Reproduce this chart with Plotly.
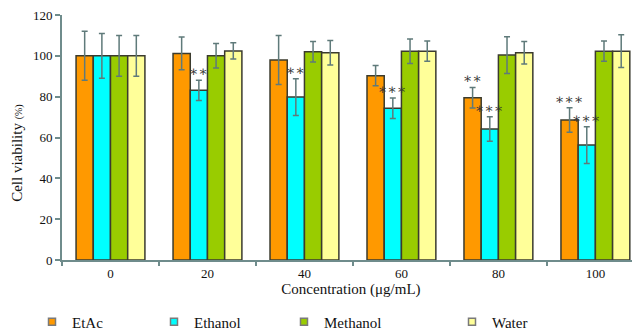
import plotly.graph_objects as go

concentrations = ["0", "20", "40", "60", "80", "100"]
series_names = ["EtAc", "Ethanol", "Methanol", "Water"]

etac = [100, 101.2, 98, 90.3, 79.5, 68.6]
etac_err = [12, 8, 12, 5, 5, 6]
ethanol = [100, 83.1, 79.8, 74.3, 64.2, 56.3]
ethanol_err = [11, 5, 9, 5, 6, 9]
methanol = [100, 100, 102, 102.3, 100.4, 102.3]
methanol_err = [10, 6, 5, 6, 9, 5]
water = [100, 102.4, 101.5, 102.3, 101.5, 102.3]
water_err = [10, 4, 6, 5, 5.5, 8]

# significance marks: (series index, category index, label)
sig_series = [1, 1, 1, 0, 1, 0, 1]
sig_cat = [1, 2, 3, 4, 4, 5, 5]
sig_text = ["∗∗", "∗∗", "∗∗∗", "∗∗", "∗∗∗", "∗∗∗", "∗∗∗"]

colors = ["#FF9900", "#00FFFF", "#99CC00", "#FFFF99"]
values = [etac, ethanol, methanol, water]
errors = [etac_err, ethanol_err, methanol_err, water_err]

FONT = "Liberation Serif"
AXIS_COLOR = "#6f8c8c"
BARGAP = 0.29

fig = go.Figure()
for name, vals, errs, col in zip(series_names, values, errors, colors):
    fig.add_trace(go.Bar(
        x=concentrations, y=vals, name=name, showlegend=False,
        marker=dict(color=col, line=dict(color="#3b3b2e", width=1.5)),
        error_y=dict(type="data", array=errs, visible=True,
                     color="#5f7a7a", thickness=1.5, width=3),
    ))

legend_ids = ["legend", "legend2", "legend3", "legend4"]
for name, col, lid in zip(series_names, colors, legend_ids):
    fig.add_trace(go.Scatter(
        x=[None], y=[None], mode="markers", name=name, legend=lid,
        marker=dict(symbol="square", size=7, color=col,
                    line=dict(color="#7a7a7a", width=1.5)),
    ))

w = (1 - BARGAP) / 4
for s, c, t in zip(sig_series, sig_cat, sig_text):
    top = values[s][c] + errors[s][c]
    fig.add_annotation(
        x=c + (-1.5 + s) * w, y=top, xref="x", yref="y",
        text=t, showarrow=False, xanchor="center", yanchor="bottom", yshift=-1,
        font=dict(family="DejaVu Serif", size=14, color="#333333"),
    )

# y-axis title
fig.add_annotation(
    x=-0.078, y=0.437, xref="paper", yref="paper",
    xanchor="center", yanchor="middle",
    text="Cell viability <span style='font-size:10px'>(%)</span>",
    textangle=-90, showarrow=False,
    font=dict(family=FONT, size=15, color="#111111"),
)

plot_left = 62
plot_w = 578
leg_lefts = [32, 154, 284, 452]
legend_cfg = {}
for lid, lx in zip(legend_ids, leg_lefts):
    legend_cfg[lid] = dict(
        x=(lx - plot_left) / plot_w, y=-0.253, xanchor="left", yanchor="middle",
        orientation="h", bgcolor="rgba(0,0,0,0)", borderwidth=0,
        font=dict(family=FONT, size=15, color="#111111"),
        itemwidth=30,
    )

# page body has an 8px default margin, so the figure is 8px smaller
fig.update_layout(
    width=632, height=323,
    margin=dict(l=54, r=0, t=7, b=71, autoexpand=False),
    paper_bgcolor="white", plot_bgcolor="white",
    barmode="group", bargap=BARGAP, bargroupgap=0,
    font=dict(family=FONT, size=13, color="#111111"),
    xaxis=dict(
        type="category", range=[-0.5, 5.46],
        showline=True, linecolor=AXIS_COLOR, linewidth=2,
        ticks="outside", tickson="boundaries", ticklen=4, tickcolor=AXIS_COLOR, tickwidth=1.5,
        tickfont=dict(family=FONT, size=13), automargin=False,
        title=dict(text="Concentration (μg/mL)", font=dict(family=FONT, size=15), standoff=2),
        showgrid=False, zeroline=False,
    ),
    yaxis=dict(
        range=[0, 120], tickvals=[0, 20, 40, 60, 80, 100, 120],
        showline=True, linecolor=AXIS_COLOR, linewidth=2,
        ticks="outside", ticklen=5, tickcolor=AXIS_COLOR, tickwidth=1.5,
        tickfont=dict(family=FONT, size=13), automargin=False,
        ticklabeloverflow="allow",
        showgrid=False, zeroline=False,
    ),
    **legend_cfg,
)

fig.write_html("out.html")
